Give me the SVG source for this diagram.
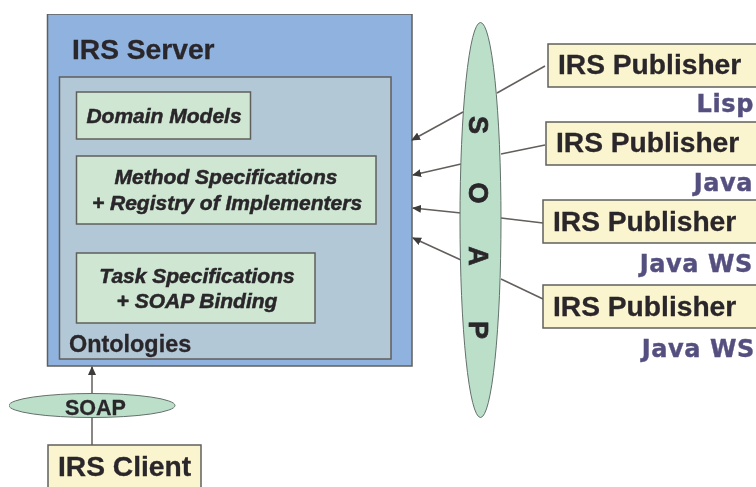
<svg xmlns="http://www.w3.org/2000/svg" width="756" height="487" viewBox="0 0 756 487">
<style>
text{font-family:"Liberation Sans",Arial,sans-serif;font-weight:700;fill:#29262a;stroke:#29262a;stroke-width:.3}
.box{stroke:#5f5f5c;stroke-width:1.5}
.pub{fill:#fbf5cf}
.inner{fill:#cfe6d2}
.ell{fill:#bcdfc9;stroke:#62706a;stroke-width:1}
.big{font-size:28.200px}
.it{font-size:21px;font-style:italic;text-anchor:middle;stroke-width:.5}
.lang{font-size:24px;fill:#54507f;stroke:#54507f;stroke-width:.4;text-anchor:end;letter-spacing:.6px;font-family:"DejaVu Sans",sans-serif}
.soap{font-size:27px;text-anchor:middle;stroke-width:.7}
.c{stroke:#625e5c;stroke-width:1.5;fill:none}
</style>
<defs>
<marker id="a" markerUnits="userSpaceOnUse" markerWidth="9" markerHeight="8" refX="8" refY="4" orient="auto"><path d="M0 0L9 4L0 8Z" fill="#3c3a3a"/></marker>
<filter id="soft" x="0" y="0" width="100%" height="100%"><feGaussianBlur stdDeviation="0.6"/></filter>
</defs>
<rect width="756" height="487" fill="#fff"/>
<g filter="url(#soft)">
<g id="server">
<rect class="box" x="47.5" y="14" width="364.5" height="352" fill="#8fb2de"/>
<text class="big" x="72" y="59">IRS Server</text>
</g>
<g id="ontologies">
<rect class="box" x="59.5" y="77" width="331.5" height="282" fill="#b3c8d7"/>
<text x="69" y="352" font-size="23.400">Ontologies</text>
</g>
<g id="domain-models">
<rect class="box inner" x="76.5" y="92" width="174" height="47"/>
<text class="it" x="164" y="123">Domain Models</text>
</g>
<g id="method-specs">
<rect class="box inner" x="76.5" y="156" width="299.5" height="68"/>
<text class="it" x="226" y="184">Method Specifications</text>
<text class="it" x="227" y="210">+ Registry of Implementers</text>
</g>
<g id="task-specs">
<rect class="box inner" x="76.5" y="253" width="238.5" height="70"/>
<text class="it" x="197" y="283">Task Specifications</text>
<text class="it" x="197" y="308">+ SOAP Binding</text>
</g>
<g id="connectors">
<path class="c" d="M545 66L497 93"/>
<path class="c" marker-end="url(#a)" d="M463 112L412 140"/>
<path class="c" d="M545 145L501 154"/>
<path class="c" marker-end="url(#a)" d="M461 164L413 175"/>
<path class="c" d="M543 223L501 218"/>
<path class="c" marker-end="url(#a)" d="M461 213L413 208"/>
<path class="c" d="M543 299L501 279"/>
<path class="c" marker-end="url(#a)" d="M461 260L413 238"/>
<path class="c" marker-end="url(#a)" d="M92 445L92 367"/>
</g>
<g id="soap-bus">
<ellipse class="ell" cx="480.500" cy="220" rx="20.500" ry="197.500"/>
<text class="soap" transform="translate(469 125) rotate(90)">S</text>
<text class="soap" transform="translate(469 193) rotate(90)">O</text>
<text class="soap" transform="translate(469 256) rotate(90)">A</text>
<text class="soap" transform="translate(469 330) rotate(90)">P</text>
</g>
<g id="publisher-lisp">
<rect class="box pub" x="548" y="44" width="212" height="43"/>
<text class="big" x="558" y="74">IRS Publisher</text>
<text class="lang" x="754" y="112">Lisp</text>
</g>
<g id="publisher-java">
<rect class="box pub" x="546" y="122" width="214" height="43"/>
<text class="big" x="556" y="152">IRS Publisher</text>
<text class="lang" x="753" y="191">Java</text>
</g>
<g id="publisher-java-ws-1">
<rect class="box pub" x="543" y="200" width="217" height="43"/>
<text class="big" x="553" y="231">IRS Publisher</text>
<text class="lang" x="753" y="272">Java WS</text>
</g>
<g id="publisher-java-ws-2">
<rect class="box pub" x="543" y="285" width="217" height="43"/>
<text class="big" x="553" y="316">IRS Publisher</text>
<text class="lang" x="755" y="357">Java WS</text>
</g>
<g id="soap-client">
<ellipse class="ell" cx="92" cy="405.500" rx="83" ry="12"/>
<text x="95.500" y="415" font-size="21.500" text-anchor="middle">SOAP</text>
</g>
<g id="client">
<rect class="box pub" x="48" y="445" width="153" height="50"/>
<text class="big" x="58" y="476">IRS Client</text>
</g>
</g>
</svg>
